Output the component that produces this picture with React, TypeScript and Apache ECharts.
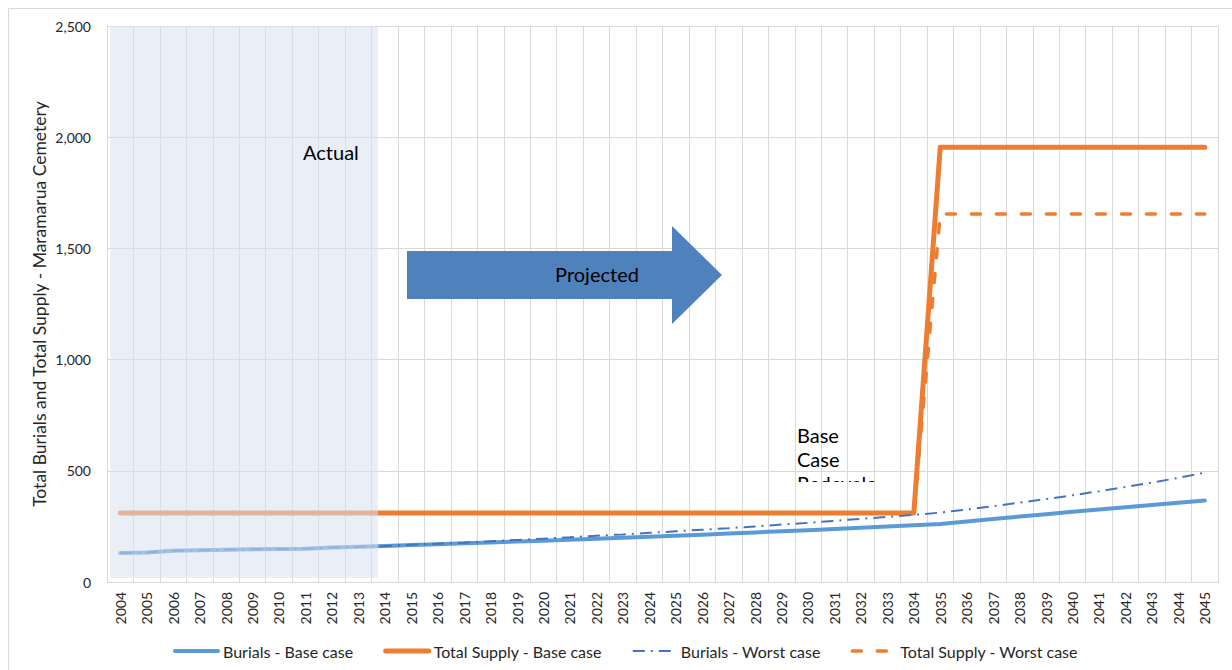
import React, { useEffect, useRef } from "react";
import * as echarts from "echarts";

const years = [
  "2004", "2005", "2006", "2007", "2008", "2009", "2010", "2011", "2012", "2013",
  "2014", "2015", "2016", "2017", "2018", "2019", "2020", "2021", "2022", "2023",
  "2024", "2025", "2026", "2027", "2028", "2029", "2030", "2031", "2032", "2033",
  "2034", "2035", "2036", "2037", "2038", "2039", "2040", "2041", "2042", "2043",
  "2044", "2045",
];

const burialsBase = [
  130, 133, 140, 143, 145, 147, 148, 150, 155, 158,
  162, 166, 170, 174, 178, 182, 186, 190, 195, 199,
  204, 208, 213, 218, 223, 228, 233, 238, 244, 249,
  255, 261, 272, 283, 294, 305, 316, 326, 336, 346,
  356, 366,
];

const burialsWorst = [
  130, 133, 140, 143, 145, 147, 148, 150, 155, 158,
  162, 167, 172, 177, 183, 189, 195, 201, 208, 214,
  221, 228, 235, 242, 250, 258, 266, 275, 284, 293,
  302, 312, 326, 341, 357, 373, 390, 408, 427, 447,
  468, 492,
];

const supplyBase = [
  310, 310, 310, 310, 310, 310, 310, 310, 310, 310,
  310, 310, 310, 310, 310, 310, 310, 310, 310, 310,
  310, 310, 310, 310, 310, 310, 310, 310, 310, 310,
  310, 1955, 1955, 1955, 1955, 1955, 1955, 1955, 1955, 1955,
  1955, 1955,
];

const supplyWorst = [
  310, 310, 310, 310, 310, 310, 310, 310, 310, 310,
  310, 310, 310, 310, 310, 310, 310, 310, 310, 310,
  310, 310, 310, 310, 310, 310, 310, 310, 310, 310,
  310, 1655, 1655, 1655, 1655, 1655, 1655, 1655, 1655, 1655,
  1655, 1655,
];

const seriesNames = [
  "Burials - Base case",
  "Total Supply - Base case",
  "Burials - Worst case",
  "Total Supply - Worst case",
];

const yTitle = "Total Burials and Total Supply - Maramarua Cemetery";

const FONT = "Lato, 'Noto Sans', sans-serif";

export default function App() {
  const ref = useRef<HTMLDivElement>(null);

  useEffect(() => {
    document.body.style.margin = "0";
    document.body.style.overflow = "hidden";
    if (!ref.current) return;
    const chart = echarts.init(ref.current, undefined, { renderer: "svg" });
    const grid = "#d9d9d9";
    chart.setOption({
      animation: false,
      backgroundColor: "#ffffff",
      textStyle: { fontFamily: FONT },
      grid: { left: 107, right: 14, top: 26, bottom: 88, containLabel: false },
      legend: {
        data: seriesNames,
        top: 638,
        left: 168,
        itemWidth: 43,
        itemHeight: 14,
        itemGap: 30,
        itemStyle: { opacity: 0 },
        lineStyle: { width: "inherit" },
        textStyle: { fontSize: 16, color: "#262626", fontFamily: FONT },
      },
      xAxis: {
        type: "category",
        data: years,
        boundaryGap: true,
        axisLine: { lineStyle: { color: grid, width: 1 } },
        axisTick: { show: false },
        axisLabel: {
          rotate: 90,
          interval: 0,
          fontSize: 14,
          color: "#262626",
          margin: 10,
          fontFamily: FONT,
        },
        splitLine: { show: true, interval: 0, lineStyle: { color: grid, width: 1 } },
      },
      yAxis: {
        type: "value",
        min: 0,
        max: 2500,
        interval: 500,
        axisLine: { show: true, lineStyle: { color: grid, width: 1 } },
        axisTick: { show: false },
        axisLabel: {
          formatter: (v: number) => v.toLocaleString("en-US"),
          fontSize: 14,
          color: "#262626",
          margin: 16,
          fontFamily: FONT,
        },
        splitLine: { lineStyle: { color: grid, width: 1 } },
        name: yTitle,
        nameLocation: "middle",
        nameGap: 59,
        nameMoveOverlap: false,
        nameTextStyle: { fontSize: 17.5, color: "#262626", fontFamily: FONT },
      },
      series: [
        {
          name: seriesNames[0],
          type: "line",
          data: burialsBase,
          symbol: "none",
          z: 2,
          lineStyle: { color: "#5B9BD5", width: 4, cap: "round", join: "round" },
          itemStyle: { color: "#5B9BD5" },
        },
        {
          name: seriesNames[1],
          type: "line",
          data: supplyBase,
          symbol: "none",
          z: 3,
          lineStyle: { color: "#ED7D31", width: 5, cap: "round", join: "round" },
          itemStyle: { color: "#ED7D31" },
        },
        {
          name: seriesNames[2],
          type: "line",
          data: burialsWorst,
          symbol: "none",
          z: 4,
          lineStyle: { color: "#4472C4", width: 2, type: [12, 6, 2, 6], cap: "butt" },
          itemStyle: { color: "#4472C4" },
        },
        {
          name: seriesNames[3],
          type: "line",
          data: supplyWorst,
          symbol: "none",
          z: 5,
          lineStyle: { color: "#ED7D31", width: 3.5, type: [9, 16], cap: "round" },
          itemStyle: { color: "#ED7D31" },
        },
      ],
      graphic: [
        {
          type: "rect",
          silent: true,
          z: -5,
          shape: { x: 8.5, y: 8.5, width: 1400, height: 800 },
          style: { fill: "none", stroke: "#d9d9d9", lineWidth: 1 },
        },
        {
          type: "rect",
          silent: true,
          z: 10,
          shape: { x: 110, y: 26, width: 268, height: 552 },
          style: { fill: "rgba(217,226,240,0.55)" },
        },
        {
          type: "text",
          silent: true,
          z: 11,
          x: 303,
          y: 152,
          style: {
            text: "Actual",
            fontSize: 20,
            fontFamily: FONT,
            fill: "#000000",
            verticalAlign: "middle",
          },
        },
        {
          type: "polygon",
          silent: true,
          z: 11,
          shape: {
            points: [
              [407, 251],
              [672, 251],
              [672, 226],
              [722, 275],
              [672, 324],
              [672, 299],
              [407, 299],
            ],
          },
          style: { fill: "#4F81BD" },
        },
        {
          type: "text",
          silent: true,
          z: 12,
          x: 597,
          y: 274,
          style: {
            text: "Projected",
            fontSize: 20,
            fontFamily: FONT,
            fill: "#000000",
            align: "center",
            verticalAlign: "middle",
          },
        },
        {
          type: "text",
          silent: true,
          z: 11,
          x: 797,
          y: 423,
          style: {
            text: "Base\nCase",
            fontSize: 20,
            lineHeight: 24,
            fontFamily: FONT,
            fill: "#000000",
          },
        },
        {
          type: "text",
          silent: true,
          z: -2,
          x: 797,
          y: 471,
          style: {
            text: "Redevelo",
            fontSize: 20,
            lineHeight: 24,
            fontFamily: FONT,
            fill: "#000000",
          },
        },
        {
          type: "rect",
          silent: true,
          z: -1,
          shape: { x: 790, y: 482, width: 110, height: 22 },
          style: { fill: "#ffffff" },
        },
      ],
    });
    return () => chart.dispose();
  }, []);

  return <div ref={ref} style={{ width: 1232, height: 670 }} />;
}
